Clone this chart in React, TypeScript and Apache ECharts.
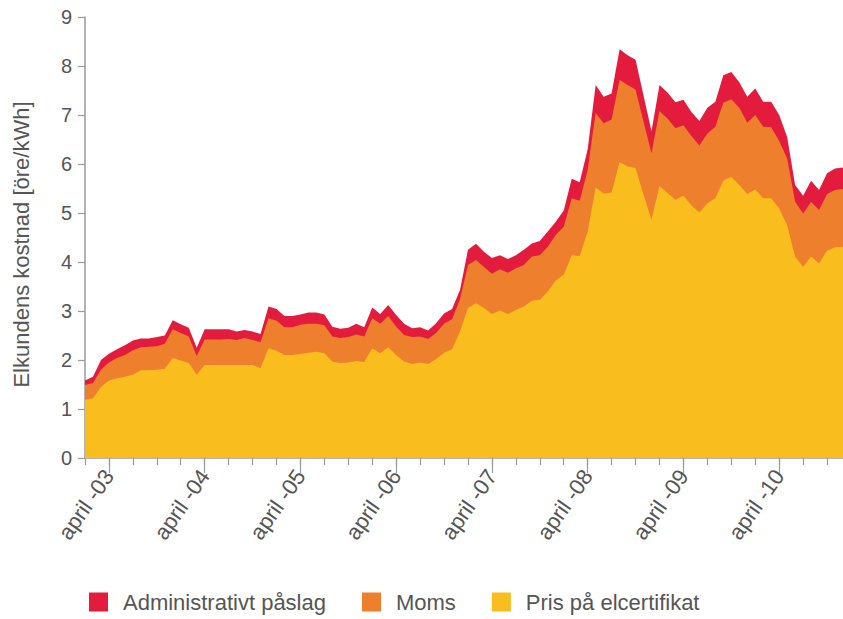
import React, { useEffect, useRef } from "react";
import * as echarts from "echarts";

const years = [2003, 2004, 2005, 2006, 2007, 2008, 2009, 2010];
const monthNums = ["01", "02", "03", "04", "05", "06", "07", "08", "09", "10", "11", "12"];
const months: string[] = years.flatMap((y) => monthNums.map((m) => `${y}-${m}`));

// Top of the red band (total)
const adminTop = [
  1.58, 1.66, 2.0, 2.13, 2.22, 2.3, 2.4, 2.44, 2.44, 2.47, 2.5, 2.81,
  2.73, 2.66, 2.25, 2.63, 2.63, 2.63, 2.63, 2.58, 2.61, 2.58, 2.53, 3.09,
  3.04, 2.9, 2.9, 2.93, 2.97, 2.97, 2.93, 2.68, 2.64, 2.66, 2.74, 2.67,
  3.07, 2.94, 3.12, 2.92, 2.74, 2.65, 2.67, 2.6, 2.75, 2.95, 3.04, 3.43,
  4.25, 4.37, 4.21, 4.08, 4.14, 4.06, 4.14, 4.25, 4.38, 4.43, 4.62, 4.82,
  5.05, 5.7, 5.63, 6.3, 7.61, 7.37, 7.44, 8.34, 8.22, 8.13, 7.4, 6.67,
  7.61, 7.46, 7.26, 7.31, 7.06, 6.88, 7.15, 7.27, 7.81, 7.88, 7.67, 7.37,
  7.54, 7.27, 7.27, 7.0, 6.55, 5.57, 5.35, 5.66, 5.47, 5.81, 5.91, 5.93,
];

// Top of the orange band
const momsTop = [
  1.49, 1.53, 1.8, 1.95, 2.04, 2.1, 2.2, 2.26, 2.27, 2.28, 2.33, 2.63,
  2.55, 2.48, 2.08, 2.42, 2.42, 2.42, 2.43, 2.41, 2.45, 2.41, 2.36, 2.85,
  2.8, 2.67, 2.67, 2.72, 2.74, 2.74, 2.71, 2.48, 2.45, 2.47, 2.52, 2.48,
  2.85, 2.74, 2.9, 2.68, 2.51, 2.47, 2.48, 2.43, 2.55, 2.74, 2.83, 3.24,
  3.94, 4.04, 3.9, 3.76, 3.85, 3.78, 3.87, 3.94, 4.11, 4.14, 4.31, 4.55,
  4.72, 5.3, 5.25, 5.88, 7.04, 6.83, 6.91, 7.72, 7.61, 7.52, 6.86, 6.22,
  7.08, 6.93, 6.73, 6.79, 6.57, 6.38, 6.62, 6.76, 7.25, 7.32, 7.15, 6.84,
  7.0, 6.76, 6.75, 6.47, 6.11, 5.23, 4.99, 5.23, 5.06, 5.39, 5.47, 5.49,
];

// Top of the yellow band
const certTop = [
  1.19, 1.22, 1.45, 1.58, 1.63, 1.66, 1.7, 1.79, 1.79, 1.8, 1.82, 2.04,
  1.99, 1.94, 1.7, 1.9, 1.9, 1.9, 1.9, 1.9, 1.9, 1.9, 1.83, 2.24,
  2.19, 2.1, 2.1, 2.12, 2.15, 2.17, 2.14, 1.97, 1.94, 1.95, 1.98, 1.96,
  2.24, 2.14, 2.26, 2.1, 1.97, 1.92, 1.95, 1.92, 2.02, 2.15, 2.22, 2.58,
  3.06, 3.16, 3.06, 2.94, 3.01, 2.94, 3.02, 3.09, 3.21, 3.23, 3.4, 3.62,
  3.74, 4.14, 4.12, 4.62, 5.52, 5.4, 5.42, 6.04, 5.95, 5.92, 5.37, 4.86,
  5.55, 5.41, 5.27, 5.35, 5.16, 5.01, 5.2, 5.3, 5.66, 5.74, 5.57, 5.39,
  5.48, 5.3, 5.3, 5.09, 4.75, 4.11, 3.9, 4.11, 3.97, 4.23, 4.3, 4.31,
];

const seriesNames = ["Administrativt påslag", "Moms", "Pris på elcertifikat"];
const seriesColors = ["#E31C3D", "#EE7F2D", "#F9BD1D"];
const yTitle = "Elkundens kostnad [öre/kWh]";

const FONT = "'Liberation Sans', Arial, sans-serif";
const TEXT = "#555555";
const AXIS = "#9a9a9a";

function labelFor(v: string) {
  const [y, m] = v.split("-");
  return m === "04" ? `april -${y.slice(2)}` : "";
}

export default function App() {
  const ref = useRef<HTMLDivElement>(null);
  useEffect(() => {
    if (!ref.current) return;
    const chart = echarts.init(ref.current, undefined, { renderer: "svg" });
    const dataSets = [adminTop, momsTop, certTop];
    chart.setOption({
      animation: false,
      backgroundColor: "#ffffff",
      textStyle: { fontFamily: FONT },
      grid: { left: 85, right: 0, top: 17, bottom: 161, containLabel: false },
      legend: {
        data: seriesNames,
        left: 84,
        top: 586,
        icon: "rect",
        itemWidth: 19,
        itemHeight: 19,
        itemGap: 36,
        textStyle: { fontSize: 22, color: TEXT, fontFamily: FONT, padding: [0, 0, 0, 10] },
      },
      xAxis: [
        {
          type: "category",
          data: months,
          boundaryGap: false,
          axisLine: { show: true, lineStyle: { color: AXIS, width: 1.5 } },
          axisTick: { show: true, length: 7, interval: (i: number) => i % 3 === 0, lineStyle: { color: AXIS, width: 1.2 } },
          axisLabel: { show: false },
          splitLine: { show: false },
        },
        {
          type: "category",
          data: months,
          boundaryGap: false,
          position: "bottom",
          axisLine: { show: false },
          axisTick: { show: true, length: 15, interval: (i: number) => i % 12 === 3, lineStyle: { color: AXIS, width: 1.2 } },
          axisLabel: {
            show: true,
            interval: (i: number) => i % 12 === 3,
            formatter: (v: string) => labelFor(v),
            rotate: 55,
            margin: 14,
            fontSize: 22,
            color: TEXT,
            fontFamily: FONT,
          },
          splitLine: { show: false },
        },
      ],
      yAxis: {
        type: "value",
        min: 0,
        max: 9,
        interval: 1,
        name: yTitle,
        nameLocation: "middle",
        nameRotate: 90,
        nameGap: 53,
        nameTextStyle: { fontSize: 22, color: TEXT, fontFamily: FONT, padding: [0, 14, 0, 0] },
        axisLine: { show: true, lineStyle: { color: AXIS, width: 1.5 } },
        axisTick: { show: true, length: 7, lineStyle: { color: AXIS, width: 1.2 } },
        axisLabel: { fontSize: 20, color: TEXT, margin: 13, fontFamily: FONT },
        splitLine: { show: false },
      },
      series: seriesNames.map((name, i) => ({
        name,
        type: "line",
        xAxisIndex: 0,
        data: dataSets[i],
        showSymbol: false,
        symbol: "none",
        lineStyle: { width: 0 },
        itemStyle: { color: seriesColors[i] },
        areaStyle: { color: seriesColors[i], opacity: 1 },
        z: 2 + i,
      })),
    });
    return () => chart.dispose();
  }, []);
  return <div ref={ref} style={{ position: "fixed", left: 0, top: 0, width: 843, height: 619 }} />;
}
